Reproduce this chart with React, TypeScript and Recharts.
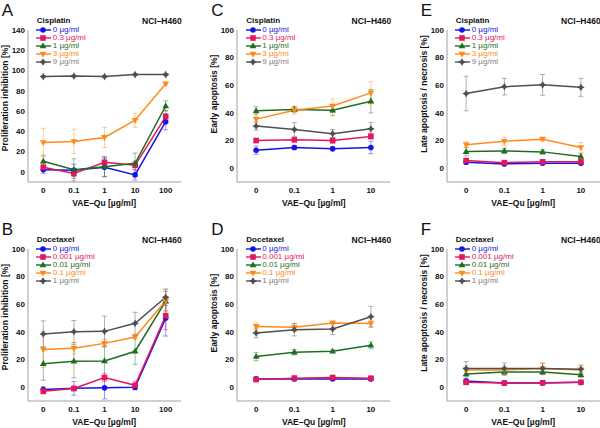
import React from "react";
import { LineChart, Line, XAxis, YAxis, ErrorBar, Legend } from "recharts";

const prolifDoses = ["0", "0.1", "1", "10", "100"];
const apopDoses = ["0", "0.1", "1", "10"];
const cisplatinLabels = ["0 µg/ml", "0.3 µg/ml", "1 µg/ml", "3 µg/ml", "9 µg/ml"];
const docetaxelLabels = ["0 µg/ml", "0.001 µg/ml", "0.01 µg/ml", "0.1 µg/ml", "1 µg/ml"];

// A: cisplatin, proliferation inhibition
const cisProlifMean = [
  [2, 1.5, 4.5, -3, 49.5],
  [4.5, -1.5, 9.5, 6.5, 54.5],
  [10.5, 2, 5, 8.5, 65],
  [29, 30, 34, 51, 87],
  [94, 94.5, 94, 96, 96],
];
const cisProlifErr = [
  [3.5, 6, 9, 5, 8],
  [3, 5, 5, 4, 6],
  [6, 11, 10, 10, 5],
  [14, 12, 10, 7, 1.5],
  [1, 1, 1, 1, 1],
];

// C: cisplatin, early apoptosis
const cisEarlyMean = [
  [13, 15, 14, 15],
  [20, 20.5, 20, 23],
  [41.5, 42.5, 42, 48.5],
  [35.5, 42, 45, 54.5],
  [30.5, 28, 25, 28.5],
];
const cisEarlyErr = [
  [3, 1.5, 1.5, 4.5],
  [1.5, 1, 2, 2],
  [3, 2, 4, 8.5],
  [6, 3, 5, 8],
  [3, 5, 3, 4.5],
];

// E: cisplatin, late apoptosis / necrosis
const cisLateMean = [
  [4.3, 3.1, 3.6, 3.6],
  [5.5, 4, 4.6, 4.6],
  [12, 12.5, 11.8, 8.5],
  [17, 19.5, 21, 15],
  [54, 59, 60.3, 58.5],
];
const cisLateErr = [
  [1.5, 1, 1, 1],
  [1, 1, 1, 1],
  [3, 2, 1.5, 2],
  [2, 3, 1, 3.5],
  [12.5, 6, 7.5, 6.5],
];

// B: docetaxel, proliferation inhibition
const docProlifMean = [
  [-1.7, -0.8, -0.5, 0, 50],
  [-2.9, -1, 7, 1.4, 51.7],
  [17, 18.8, 19, 26, 62.3],
  [27.2, 28.1, 31.7, 36.3, 62.5],
  [38.5, 40.2, 40.4, 46.2, 65.1],
];
const docProlifErr = [
  [2, 5, 8, 2, 13],
  [2, 1.5, 3, 3, 10],
  [12, 12, 11, 9.5, 7],
  [13, 4, 3, 2, 8],
  [9.5, 8, 11, 8, 6],
];

// D: docetaxel, early apoptosis
const docEarlyMean = [
  [6, 6, 6, 6],
  [5.5, 6.5, 7, 6.5],
  [22.2, 25.3, 26, 30.3],
  [44, 43.3, 46.5, 46],
  [39.2, 41.6, 42.1, 51],
];
const docEarlyErr = [
  [1, 1, 1, 1.5],
  [1, 2, 1, 1],
  [3, 2, 1, 2.5],
  [2.5, 3, 1.5, 2.5],
  [3.5, 4.5, 4, 7.5],
];

// F: docetaxel, late apoptosis / necrosis
const docLateMean = [
  [4.5, 3, 3, 3.5],
  [3.5, 3, 3.2, 3.5],
  [9.5, 11, 11, 9],
  [12.5, 12.5, 13.5, 12.5],
  [13.5, 13.5, 13.5, 13],
];
const docLateErr = [
  [2, 1, 1, 1],
  [1, 1, 1, 1],
  [2, 2.5, 2, 2],
  [3, 3, 3.5, 3],
  [5, 4, 4, 3],
];

const ticks140 = [0, 20, 40, 60, 80, 100, 120, 140];
const ticks100 = [0, 20, 40, 60, 80, 100];

const lineColors = ["#1515e0", "#e3175f", "#1f6e1f", "#ff8a1c", "#4f4f4f"];
const textColors = ["#1515e0", "#e3175f", "#1f6e1f", "#ff8a1c", "#808080"];
const markerKinds = ["circle", "square", "up", "down", "star"];

const FONT = "'Liberation Sans', Arial, Helvetica, sans-serif";
const PLOT_H = 152;
const PLOT_W = 153;

function Marker({ kind, cx, cy, color }: { kind: string; cx: number; cy: number; color: string }) {
  if (kind === "circle") return <circle cx={cx} cy={cy} r={2.8} fill={color} />;
  if (kind === "square") return <rect x={cx - 2.8} y={cy - 2.8} width={5.6} height={5.6} fill={color} />;
  if (kind === "up")
    return <polygon points={`${cx},${cy - 3.6} ${cx + 3.4},${cy + 2.3} ${cx - 3.4},${cy + 2.3}`} fill={color} />;
  if (kind === "down")
    return <polygon points={`${cx},${cy + 3.6} ${cx + 3.4},${cy - 2.3} ${cx - 3.4},${cy - 2.3}`} fill={color} />;
  const o = 3.8;
  const n = 1.4;
  return (
    <polygon
      points={`${cx},${cy - o} ${cx + n},${cy - n} ${cx + o},${cy} ${cx + n},${cy + n} ${cx},${cy + o} ${cx - n},${cy + n} ${cx - o},${cy} ${cx - n},${cy - n}`}
      fill={color}
    />
  );
}

function DoseLegend({ labels }: { labels: string[] }) {
  return (
    <div style={{ fontFamily: FONT, fontSize: 8 }}>
      {labels.map((l, i) => (
        <div key={l} style={{ display: "flex", alignItems: "center", height: 8.1, whiteSpace: "nowrap" }}>
          <svg width={16} height={8} style={{ display: "block" }}>
            <line x1={0} x2={15} y1={4} y2={4} stroke={lineColors[i]} strokeWidth={1.4} />
            <Marker kind={markerKinds[i]} cx={7} cy={4} color={lineColors[i]} />
          </svg>
          <span style={{ color: textColors[i], lineHeight: "8px", marginLeft: 0.5 }}>{l}</span>
        </div>
      ))}
    </div>
  );
}

function Txt({
  x,
  y,
  children,
  size = 8.5,
  bold = true,
  anchor = "start",
  rotate = false,
}: {
  x: number;
  y: number;
  children: React.ReactNode;
  size?: number;
  bold?: boolean;
  anchor?: "start" | "middle" | "end";
  rotate?: boolean;
}) {
  const tx = anchor === "start" ? "0" : anchor === "middle" ? "-50%" : "-100%";
  return (
    <div
      style={{
        position: "absolute",
        left: x,
        top: y,
        fontFamily: FONT,
        fontSize: size,
        fontWeight: bold ? "bold" : "normal",
        lineHeight: 1,
        whiteSpace: "nowrap",
        color: "#111",
        transform: rotate ? "translate(-50%, -50%) rotate(-90deg)" : `translate(${tx}, -50%)`,
      }}
    >
      {children}
    </div>
  );
}

interface PanelProps {
  letter: string;
  drug: string;
  yTitle: string;
  yTitleY: number;
  plotLeft: number;
  plotTop: number;
  doses: string[];
  labels: string[];
  means: number[][];
  errs: number[][];
  yMax: number;
  yTicks: number[];
}

function Panel({ letter, drug, yTitle, yTitleY, plotLeft, plotTop, doses, labels, means, errs, yMax, yTicks }: PanelProps) {
  const data = doses.map((d, i) => {
    const row: Record<string, number | string> = { x: i, dose: d };
    means.forEach((m, s) => {
      row[`s${s}`] = m[i];
      row[`e${s}`] = errs[s][i];
    });
    return row;
  });
  const chartLeft = plotLeft - 28;
  const chartTop = plotTop - 30;
  const plotBottom = plotTop + PLOT_H;

  return (
    <>
      <Txt x={plotLeft - 26} y={plotTop - 20.5} size={17} bold={false}>
        {letter}
      </Txt>
      <Txt x={plotLeft + 9} y={plotTop - 9} size={8}>
        {drug}
      </Txt>
      <Txt x={plotLeft + PLOT_W + 1} y={plotTop - 9}>
        <span style={{ display: "inline-block", transform: "translateX(-100%)" }}>NCI–H460</span>
      </Txt>
      <Txt x={plotLeft - 23} y={plotTop + yTitleY} rotate>
        {yTitle}
      </Txt>
      <Txt x={plotLeft + PLOT_W / 2} y={plotBottom + 20.5} anchor="middle">
        VAE–Qu [µg/ml]
      </Txt>
      <div style={{ position: "absolute", left: chartLeft, top: chartTop }}>
        <LineChart
          width={28 + PLOT_W + 2}
          height={30 + PLOT_H + 24}
          data={data}
          margin={{ top: 30, right: 2, bottom: 4, left: 0 }}
          style={{ fontFamily: FONT }}
        >
          <XAxis
            type="number"
            dataKey="x"
            domain={[-0.5, doses.length - 0.5]}
            ticks={doses.map((_, i) => i)}
            tickFormatter={(v: number) => doses[v] ?? ""}
            height={20}
            stroke="#a0a0a0"
            tickLine={false}
            tickSize={4}
            tickMargin={1}
            tick={{ fontSize: 8, fontWeight: "bold", fill: "#111" }}
          />
          <YAxis
            type="number"
            domain={[-10, yMax]}
            ticks={yTicks}
            width={28}
            stroke="#a0a0a0"
            tickLine={false}
            tickSize={3}
            tickMargin={0}
            tick={{ fontSize: 8, fontWeight: "bold", fill: "#111" }}
          />
          <Legend
            layout="vertical"
            align="center"
            verticalAlign="middle"
            wrapperStyle={{ left: 36.5, top: 26, width: "auto" }}
            content={() => <DoseLegend labels={labels} />}
          />
          {labels.map((l, s) => (
            <Line
              key={l}
              type="linear"
              dataKey={`s${s}`}
              stroke={lineColors[s]}
              strokeWidth={1.5}
              isAnimationActive={false}
              activeDot={false}
              dot={(p: any) => (
                <Marker key={`${l}-${p.index}`} kind={markerKinds[s]} cx={p.cx} cy={p.cy} color={lineColors[s]} />
              )}
            >
              <ErrorBar
                dataKey={`e${s}`}
                direction="y"
                width={2.5}
                stroke={lineColors[s]}
                strokeWidth={0.8}
                strokeOpacity={0.55}
                isAnimationActive={false}
              />
            </Line>
          ))}
        </LineChart>
      </div>
    </>
  );
}

export default function App() {
  return (
    <div
      style={{
        position: "fixed",
        left: 0,
        top: 0,
        width: 600,
        height: 428,
        background: "#fff",
        overflow: "hidden",
      }}
    >
      <Panel
        letter="A"
        drug="Cisplatin"
        yTitle="Proliferation inhibition [%]"
        yTitleY={68}
        plotLeft={27.7}
        plotTop={30}
        doses={prolifDoses}
        labels={cisplatinLabels}
        means={cisProlifMean}
        errs={cisProlifErr}
        yMax={140}
        yTicks={ticks140}
      />
      <Panel
        letter="C"
        drug="Cisplatin"
        yTitle="Early apoptosis [%]"
        yTitleY={64}
        plotLeft={237.3}
        plotTop={30}
        doses={apopDoses}
        labels={cisplatinLabels}
        means={cisEarlyMean}
        errs={cisEarlyErr}
        yMax={100}
        yTicks={ticks100}
      />
      <Panel
        letter="E"
        drug="Cisplatin"
        yTitle="Late apoptosis / necrosis [%]"
        yTitleY={64}
        plotLeft={446.7}
        plotTop={30}
        doses={apopDoses}
        labels={cisplatinLabels}
        means={cisLateMean}
        errs={cisLateErr}
        yMax={100}
        yTicks={ticks100}
      />
      <Panel
        letter="B"
        drug="Docetaxel"
        yTitle="Proliferation inhibition [%]"
        yTitleY={68}
        plotLeft={27.7}
        plotTop={249}
        doses={prolifDoses}
        labels={docetaxelLabels}
        means={docProlifMean}
        errs={docProlifErr}
        yMax={100}
        yTicks={ticks100}
      />
      <Panel
        letter="D"
        drug="Docetaxel"
        yTitle="Early apoptosis [%]"
        yTitleY={64}
        plotLeft={237.3}
        plotTop={249}
        doses={apopDoses}
        labels={docetaxelLabels}
        means={docEarlyMean}
        errs={docEarlyErr}
        yMax={100}
        yTicks={ticks100}
      />
      <Panel
        letter="F"
        drug="Docetaxel"
        yTitle="Late apoptosis / necrosis [%]"
        yTitleY={64}
        plotLeft={446.7}
        plotTop={249}
        doses={apopDoses}
        labels={docetaxelLabels}
        means={docLateMean}
        errs={docLateErr}
        yMax={100}
        yTicks={ticks100}
      />
    </div>
  );
}
